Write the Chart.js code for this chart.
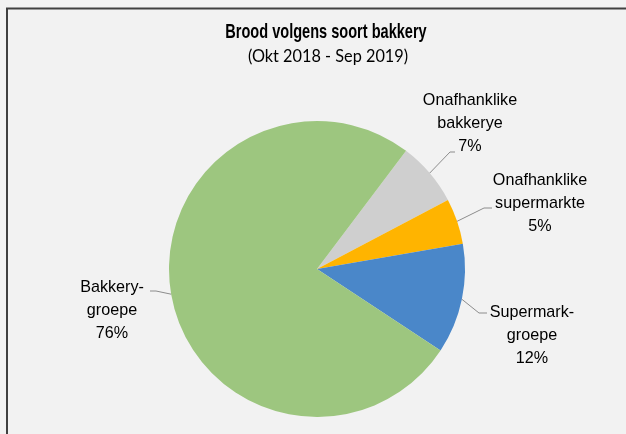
<!DOCTYPE html>
<html>
<head>
<meta charset="utf-8">
<script src="https://cdn.jsdelivr.net/npm/chart.js@4/dist/chart.umd.min.js"></script>
<style>
  html, body { margin: 0; padding: 0; background: #f2f2f2; }
  #wrap { width: 626px; height: 434px; }
</style>
</head>
<body>
<div id="wrap"><canvas id="myChart" width="626" height="434"></canvas></div>
<script>
const categories = ['Onafhanklike bakkerye', 'Onafhanklike supermarkte', 'Supermark-groepe', 'Bakkery-groepe'];
const labelLines = [['Onafhanklike', 'bakkerye'], ['Onafhanklike', 'supermarkte'], ['Supermark-', 'groepe'], ['Bakkery-', 'groepe']];
const shares = [7, 5, 12, 76];
const sliceColors = ['#cfcfcf', '#ffb400', '#4a87c9', '#9dc67f'];

// where each data label sits (text centre, first line) and the bend of its leader line
const labelSpots = [
    { x: 470, y: 100, bend: [450, 152], tail: [455, 152] },
    { x: 540, y: 180, bend: [484, 208], tail: [492, 208] },
    { x: 532, y: 312, bend: [479, 313], tail: [487, 313] },
    { x: 112, y: 287, bend: [156, 291], tail: [150, 291] }
];

const ctx = document.getElementById('myChart').getContext('2d');

// titels, etikette en leierlyne
const decor = {
    id: 'decor',
    afterDraw(chart) {
        const c = chart.ctx;
        c.save();
        // raam
        c.strokeStyle = '#404040';
        c.lineWidth = 2;
        c.beginPath();
        c.moveTo(7, 434);
        c.lineTo(7, 8.5);
        c.lineTo(626, 8.5);
        c.stroke();

        c.fillStyle = '#000';
        c.textAlign = 'center';
        c.textBaseline = 'middle';
        // title, a bit condensed like the original
        c.save();
        c.translate(326, 32);
        c.scale(0.71, 1);
        c.font = 'bold 20.5px "Liberation Sans", Arial, sans-serif';
        c.fillText('Brood volgens soort bakkery', 0, 0);
        c.restore();
        c.font = '16.3px Lato, "Open Sans", sans-serif';
        c.fillText('(Okt 2018 - Sep 2019)', 328, 57);

        const meta = chart.getDatasetMeta(0);
        meta.data.forEach((arc, i) => {
            const p = arc.getProps(['x', 'y', 'startAngle', 'endAngle', 'outerRadius'], true);
            const mid = (p.startAngle + p.endAngle) / 2;
            const ax = p.x + Math.cos(mid) * p.outerRadius;
            const ay = p.y + Math.sin(mid) * p.outerRadius;
            const s = labelSpots[i];
            c.strokeStyle = '#8c8c8c';
            c.lineWidth = 1;
            c.beginPath();
            c.moveTo(ax, ay);
            c.lineTo(s.bend[0], s.bend[1]);
            c.lineTo(s.tail[0], s.tail[1]);
            c.stroke();

            const lines = labelLines[i].concat([shares[i] + '%']);
            c.save();
            c.translate(s.x, s.y);
            c.scale(0.95, 1);
            c.font = '17px "Liberation Sans", Arial, sans-serif';
            c.fillStyle = '#000';
            lines.forEach((t, k) => c.fillText(t, 0, k * 23.3));
            c.restore();
        });
        c.restore();
    }
};

let myChart = new Chart(ctx, {
    type: 'pie',
    data: {
        labels: categories,
        datasets: [{
            data: shares,
            backgroundColor: sliceColors,
            borderWidth: 0
        }]
    },
    options: {
        responsive: false,
        animation: false,
        rotation: 37,
        layout: { padding: { top: 121, bottom: 17, left: 100, right: 92 } },
        plugins: {
            legend: { display: false },
            title: { display: false },
            tooltip: { enabled: false }
        }
    },
    plugins: [decor]
});
</script>
</body>
</html>
